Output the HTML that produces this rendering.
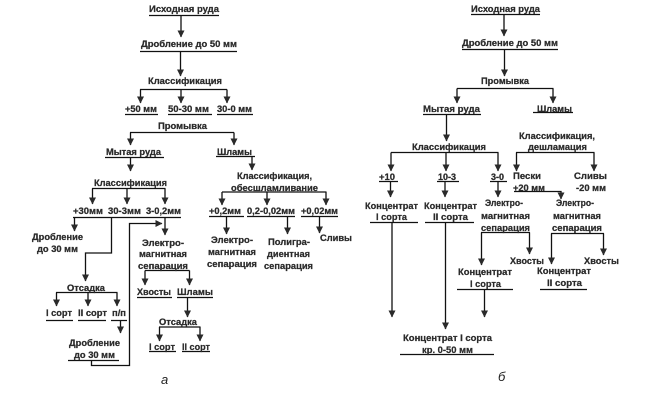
<!DOCTYPE html>
<html><head><meta charset="utf-8"><style>
html,body{margin:0;padding:0;background:#fff}
svg{display:block;filter:blur(0.3px)}
text{font-family:"Liberation Sans",sans-serif;font-weight:bold;font-size:9px;fill:#2a2a2a;stroke:#2a2a2a;stroke-width:.25px}
.i{font-style:italic;font-weight:normal;font-size:13px;fill:#222;stroke:none}
path{fill:none;stroke:#111;stroke-width:1.3}
</style></head><body>
<svg width="652" height="400" viewBox="0 0 652 400" xmlns="http://www.w3.org/2000/svg">
<defs><marker id="a" markerUnits="userSpaceOnUse" markerWidth="7" markerHeight="8" refX="6.5" refY="3.5" orient="auto"><polygon points="0,0 7,3.5 0,7" fill="#2a2a2a"/></marker></defs>
<g marker-end="url(#a)">
<path d="M181 15V37"/><path d="M180.500 51V76"/>
<path d="M181 89V103"/><path d="M140.500 89.500V103"/><path d="M227 89.500V103"/>
<path d="M130.500 132.500V145"/><path d="M234 132.500V145"/>
<path d="M130.500 157V171"/><path d="M252 157V170"/>
<path d="M92.500 188.500V204"/><path d="M127 188.500V204"/><path d="M165 188.500V204"/>
<path d="M222 192V205"/><path d="M267 192V205"/><path d="M326 192V205"/>
<path d="M74.500 217V231"/><path d="M111.500 217V253H85.500V281"/>
<path d="M56.500 292.500V306"/><path d="M88 292.500V306"/><path d="M117 292.500V306"/>
<path d="M120.500 320V333"/>
<path d="M91.500 360.500V365.500H129.500V223.500H162"/>
<path d="M165 217V235"/>
<path d="M145 270.500V285"/><path d="M189.500 270.500V285"/>
<path d="M187.500 297.500V317"/>
<path d="M159.500 327V341"/><path d="M200 327V341"/>
<path d="M226.500 216.500V234"/><path d="M287.500 216.500V234"/><path d="M319.500 216.500V233"/>
<path d="M504 14.500V36"/><path d="M504.500 49.500V76"/>
<path d="M457 88.500V103"/><path d="M553 88.500V103"/>
<path d="M446.500 114.500V141"/>
<path d="M391 152.500V171"/><path d="M446 152.500V171"/><path d="M498 152.500V171"/>
<path d="M516.500 152.500V171"/><path d="M594 152.500V171"/>
<path d="M390.500 181.500V197"/><path d="M445 181.500V197"/><path d="M498 181.500V197"/>
<path d="M514 191.500H561V199"/>
<path d="M392 222.500V317"/><path d="M445.500 222.500V329"/>
<path d="M481.500 232.500V265"/><path d="M529.500 232.500V254"/>
<path d="M551.500 233.500V264"/><path d="M603.500 233.500V255"/>
<path d="M484.500 289V317"/>
</g>
<path d="M140 89.500H227M130 132.500H234M92 188.500H165.500M222 192H326.500M56 292.500H117.500M145 270.500H189.500M159 327H200.500M457 88.500H553.500M391 152.500H498.500M516 152.500H594.500M481 232.500H530M551 233.500H604"/>
<path d="M149 15.500H219M140 51.500H237M125 114.500H158M168 114.500H212M217 114.500H253M105 157.500H164M216 156.500H255M73 217.500H181M209 216.500H244M247 216.500H295M301 216.500H338M46 320.500H73M78 320.500H106M111 320.500H127M68 360.500H119M137 297.500H172M177 297.500H213M149 351.500H176M182 351.500H210M471 14.500H540M462 49.500H558M423 114.500H481M533 112.500H573M379 181.500H398M437 181.500H459M490 181.500H507M370 222.500H418M425 222.500H474M457 289.500H513M540 289.500H587M400 354.500H494"/>
<g>
<text x="149" y="12" textLength="70" lengthAdjust="spacingAndGlyphs">Исходная руда</text>
<text x="141" y="47" textLength="96" lengthAdjust="spacingAndGlyphs">Дробление до 50 мм</text>
<text x="148" y="84" textLength="74" lengthAdjust="spacingAndGlyphs">Классификация</text>
<text x="125" y="112" textLength="32" lengthAdjust="spacingAndGlyphs">+50 мм</text>
<text x="168" y="112" textLength="41" lengthAdjust="spacingAndGlyphs">50-30 мм</text>
<text x="217" y="112" textLength="35" lengthAdjust="spacingAndGlyphs">30-0 мм</text>
<text x="158" y="129" textLength="49" lengthAdjust="spacingAndGlyphs">Промывка</text>
<text x="106" y="155" textLength="55" lengthAdjust="spacingAndGlyphs">Мытая руда</text>
<text x="217" y="155" textLength="35" lengthAdjust="spacingAndGlyphs">Шламы</text>
<text x="94" y="186" textLength="73" lengthAdjust="spacingAndGlyphs">Классификация</text>
<text x="237" y="179" textLength="75" lengthAdjust="spacingAndGlyphs">Классификация,</text>
<text x="231" y="191" textLength="87" lengthAdjust="spacingAndGlyphs">обесшламливание</text>
<text x="73" y="214" textLength="30" lengthAdjust="spacingAndGlyphs">+30мм</text>
<text x="108" y="214" textLength="33" lengthAdjust="spacingAndGlyphs">30-3мм</text>
<text x="146" y="214" textLength="35" lengthAdjust="spacingAndGlyphs">3-0,2мм</text>
<text x="209" y="214" textLength="32" lengthAdjust="spacingAndGlyphs">+0,2мм</text>
<text x="247" y="214" textLength="48" lengthAdjust="spacingAndGlyphs">0,2-0,02мм</text>
<text x="301" y="214" textLength="37" lengthAdjust="spacingAndGlyphs">+0,02мм</text>
<text x="32" y="240" textLength="51" lengthAdjust="spacingAndGlyphs">Дробление</text>
<text x="37" y="252" textLength="41" lengthAdjust="spacingAndGlyphs">до 30 мм</text>
<text x="67" y="291" textLength="38" lengthAdjust="spacingAndGlyphs">Отсадка</text>
<text x="46" y="316" textLength="26" lengthAdjust="spacingAndGlyphs">I сорт</text>
<text x="78" y="316" textLength="29" lengthAdjust="spacingAndGlyphs">II сорт</text>
<text x="112" y="316" textLength="14" lengthAdjust="spacingAndGlyphs">п/п</text>
<text x="69" y="346" textLength="51" lengthAdjust="spacingAndGlyphs">Дробление</text>
<text x="74" y="358" textLength="41" lengthAdjust="spacingAndGlyphs">до 30 мм</text>
<text x="142" y="246" textLength="42" lengthAdjust="spacingAndGlyphs">Электро-</text>
<text x="139" y="257" textLength="48" lengthAdjust="spacingAndGlyphs">магнитная</text>
<text x="138" y="269" textLength="50" lengthAdjust="spacingAndGlyphs">сепарация</text>
<text x="137" y="295" textLength="34" lengthAdjust="spacingAndGlyphs">Хвосты</text>
<text x="177" y="295" textLength="36" lengthAdjust="spacingAndGlyphs">Шламы</text>
<text x="159" y="325" textLength="38" lengthAdjust="spacingAndGlyphs">Отсадка</text>
<text x="149" y="350" textLength="26" lengthAdjust="spacingAndGlyphs">I сорт</text>
<text x="182" y="350" textLength="28" lengthAdjust="spacingAndGlyphs">II сорт</text>
<text x="211" y="243" textLength="42" lengthAdjust="spacingAndGlyphs">Электро-</text>
<text x="208" y="255" textLength="48" lengthAdjust="spacingAndGlyphs">магнитная</text>
<text x="207" y="267" textLength="50" lengthAdjust="spacingAndGlyphs">сепарация</text>
<text x="268" y="245" textLength="42" lengthAdjust="spacingAndGlyphs">Полигра-</text>
<text x="267" y="257" textLength="43" lengthAdjust="spacingAndGlyphs">диентная</text>
<text x="264" y="269" textLength="49" lengthAdjust="spacingAndGlyphs">сепарация</text>
<text x="320" y="241" textLength="32" lengthAdjust="spacingAndGlyphs">Сливы</text>
<text class="i" x="161" y="384">а</text>
<text x="471" y="12" textLength="69" lengthAdjust="spacingAndGlyphs">Исходная руда</text>
<text x="462" y="46" textLength="96" lengthAdjust="spacingAndGlyphs">Дробление до 50 мм</text>
<text x="481" y="84" textLength="48" lengthAdjust="spacingAndGlyphs">Промывка</text>
<text x="423" y="112" textLength="57" lengthAdjust="spacingAndGlyphs">Мытая руда</text>
<text x="537" y="112" textLength="35" lengthAdjust="spacingAndGlyphs">Шламы</text>
<text x="412" y="150" textLength="74" lengthAdjust="spacingAndGlyphs">Классификация</text>
<text x="519" y="139" textLength="76" lengthAdjust="spacingAndGlyphs">Классификация,</text>
<text x="528" y="150" textLength="59" lengthAdjust="spacingAndGlyphs">дешламация</text>
<text x="379" y="180" textLength="16" lengthAdjust="spacingAndGlyphs">+10</text>
<text x="438" y="180" textLength="18" lengthAdjust="spacingAndGlyphs">10-3</text>
<text x="491" y="180" textLength="13" lengthAdjust="spacingAndGlyphs">3-0</text>
<text x="513" y="179" textLength="28" lengthAdjust="spacingAndGlyphs">Пески</text>
<text x="513" y="191" textLength="32" lengthAdjust="spacingAndGlyphs">+20 мм</text>
<text x="574" y="179" textLength="33" lengthAdjust="spacingAndGlyphs">Сливы</text>
<text x="576" y="191" textLength="30" lengthAdjust="spacingAndGlyphs">-20 мм</text>
<text x="365" y="209" textLength="53" lengthAdjust="spacingAndGlyphs">Концентрат</text>
<text x="376" y="220" textLength="31" lengthAdjust="spacingAndGlyphs">I сорта</text>
<text x="424" y="209" textLength="53" lengthAdjust="spacingAndGlyphs">Концентрат</text>
<text x="433" y="220" textLength="35" lengthAdjust="spacingAndGlyphs">II сорта</text>
<text x="485" y="206" textLength="38" lengthAdjust="spacingAndGlyphs">Электро-</text>
<text x="481" y="219" textLength="49" lengthAdjust="spacingAndGlyphs">магнитная</text>
<text x="481" y="231" textLength="49" lengthAdjust="spacingAndGlyphs">сепарация</text>
<text x="556" y="206" textLength="38" lengthAdjust="spacingAndGlyphs">Электро-</text>
<text x="553" y="219" textLength="48" lengthAdjust="spacingAndGlyphs">магнитная</text>
<text x="552" y="231" textLength="50" lengthAdjust="spacingAndGlyphs">сепарация</text>
<text x="510" y="264" textLength="34" lengthAdjust="spacingAndGlyphs">Хвосты</text>
<text x="584" y="264" textLength="35" lengthAdjust="spacingAndGlyphs">Хвосты</text>
<text x="458" y="275" textLength="54" lengthAdjust="spacingAndGlyphs">Концентрат</text>
<text x="470" y="287" textLength="31" lengthAdjust="spacingAndGlyphs">I сорта</text>
<text x="537" y="274" textLength="54" lengthAdjust="spacingAndGlyphs">Концентрат</text>
<text x="547" y="286" textLength="35" lengthAdjust="spacingAndGlyphs">II сорта</text>
<text x="403" y="341" textLength="89" lengthAdjust="spacingAndGlyphs">Концентрат I сорта</text>
<text x="422" y="353" textLength="51" lengthAdjust="spacingAndGlyphs">кр. 0-50 мм</text>
<text class="i" x="498" y="381">б</text>
</g>
</svg>
</body></html>
